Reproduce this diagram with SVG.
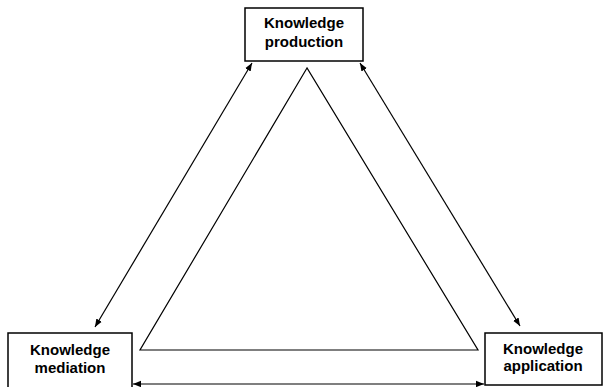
<svg xmlns="http://www.w3.org/2000/svg" width="604" height="387" viewBox="0 0 604 387">
<style>
.box{fill:#fff;stroke:#000;stroke-width:1.5}
.lbl{font-family:"Liberation Sans",Arial,sans-serif;font-weight:bold;font-size:15px;text-anchor:middle;fill:#000}
.ln{stroke:#000;stroke-width:1.2;fill:none}
</style>
<defs>
<marker id="ah" viewBox="0 0 10 10" refX="10" refY="5" markerWidth="8" markerHeight="8" markerUnits="userSpaceOnUse" orient="auto-start-reverse">
<path d="M0,1 L10,5 L0,9 z" fill="#000"/>
</marker>
</defs>
<g id="triangle">
<polygon class="ln" points="307,68 140,350 478,350"/>
</g>
<g id="connectors">
<line class="ln" x1="252" y1="63" x2="95" y2="327" marker-start="url(#ah)" marker-end="url(#ah)"/>
<line class="ln" x1="360" y1="63" x2="520" y2="326" marker-start="url(#ah)" marker-end="url(#ah)"/>
<line class="ln" x1="133" y1="384" x2="484" y2="384" marker-start="url(#ah)" marker-end="url(#ah)"/>
</g>
<g id="production">
<rect class="box" x="245" y="8" width="118" height="53"/>
<text class="lbl" x="304" y="28">Knowledge</text>
<text class="lbl" x="304" y="47">production</text>
</g>
<g id="mediation">
<rect class="box" x="8" y="333" width="124" height="56"/>
<text class="lbl" x="70" y="355">Knowledge</text>
<text class="lbl" x="70" y="373">mediation</text>
</g>
<g id="application">
<rect class="box" x="485" y="333" width="117" height="52"/>
<text class="lbl" x="543" y="354">Knowledge</text>
<text class="lbl" x="543" y="371">application</text>
</g>
</svg>
